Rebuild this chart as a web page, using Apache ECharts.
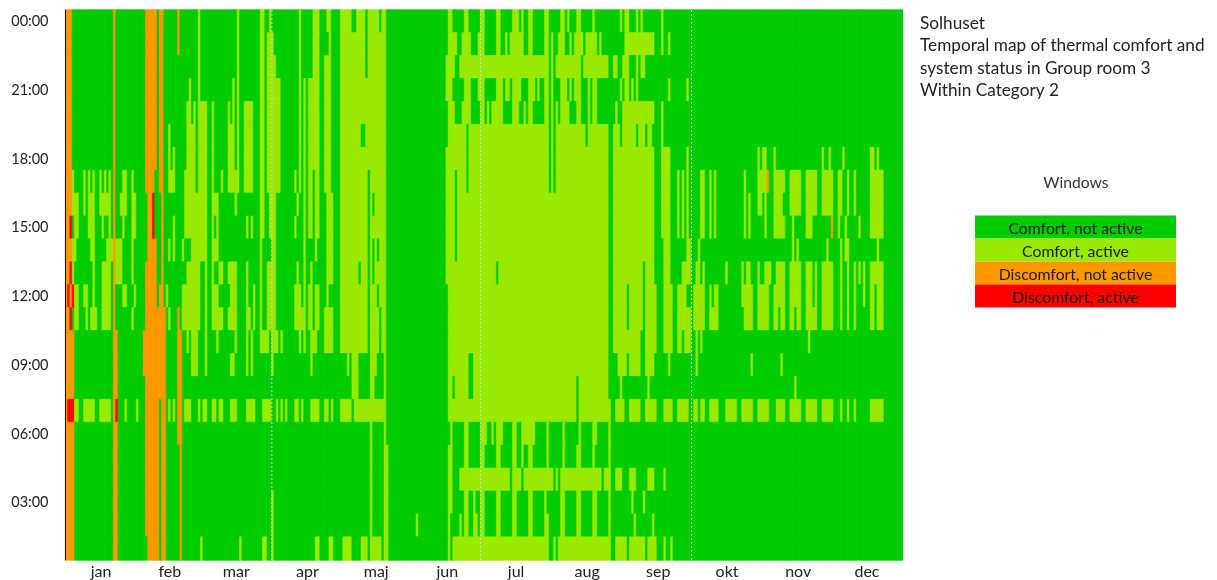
<!DOCTYPE html>
<html><head><meta charset="utf-8">
<style>html,body{margin:0;padding:0;background:#fff}#c{width:1217px;height:580px}</style>
<script src="https://cdn.jsdelivr.net/npm/echarts@6/dist/echarts.min.js"></script>
</head><body><div id="c"></div>
<script>
// Hour labels, top row to bottom row
const hourRows = ['00:00','23:00','22:00','21:00','20:00','19:00','18:00','17:00','16:00','15:00','14:00','13:00','12:00','11:00','10:00','09:00','08:00','07:00','06:00','05:00','04:00','03:00','02:00','01:00'];
const months = [['jan',15],['feb',45],['mar',74],['apr',105],['maj',135],['jun',166],['jul',196],['aug',227],['sep',258],['okt',288],['nov',319],['dec',349]];
const statusNames = ['Comfort, not active','Comfort, active','Discomfort, not active','Discomfort, active'];
const statusColors = ['#00CC00','#99EA00','#FF9900','#FF0000'];
const monthBreaks = [90,181,273];

// Days (0-364) with "Comfort, active" for each hour: single day or [first,last]
const h00=[58,75,[85,86],89,102,[108,110],[114,115],[120,124],[127,130],[132,136],[138,139],[167,168],[174,175],[181,182],[188,189],[195,197],199,[202,203],[209,210],[216,217],219,[223,224],230,242,[244,245],249,251,260];
const h23=[58,75,[85,86],[88,90],102,[108,110],115,[120,130],[132,139],[167,170],[173,176],180,[181,182],[188,189],192,[194,199],[202,203],[209,210],212,[215,217],220,[222,225],[227,231],233,[244,256],260,263];
const h22=[58,75,[85,86],[88,91],102,[108,110],[113,115],[120,130],[132,139],[166,169],[172,210],212,[214,224],[226,236],[239,240],[243,245],249,[251,252]];
const h21=[54,58,73,75,[85,86],[88,93],102,104,[106,110],[113,115],[120,139],[166,168],[174,176],[180,182],[188,190],[192,193],[195,198],[202,204],206,[209,210],212,[216,218],220,[222,224],228,[230,231],242,[244,245],247,249,263,271];
const h20=[[53,54],56,[58,61],64,71,73,75,[78,81],[85,86],[88,93],102,104,[106,110],[113,115],[120,139],[167,169],[173,176],[181,182],184,[186,190],[195,197],200,[202,203],[209,210],212,214,[216,219],[223,224],228,[230,231],240,[243,256],260];
const h19=[45,[53,56],[58,61],64,[71,73],75,[78,81],[85,86],[88,93],102,104,[106,110],[113,115],[120,128],[131,139],[167,174],[176,210],212,[214,226],[228,236],[239,241],[243,248],[250,252],[254,255],260];
const h18=[45,47,[53,56],[58,61],64,[71,73],75,[78,81],[85,86],[88,93],102,104,[106,110],[113,115],[120,139],[166,174],[176,210],212,[214,236],[239,256],[260,263],271,302,[304,305],309,330,333,339,[351,352],354];
const h17=[3,8,10,12,15,17,19,[25,26],29,[45,47],[52,56],[58,61],64,68,[71,75],[78,81],[85,86],[88,93],100,102,104,[106,107],[109,110],[113,115],[120,131],[133,139],[166,169],[171,174],[176,210],212,[214,236],[239,256],[260,263],267,269,271,[277,278],281,283,296,[302,305],[309,313],[316,320],[323,327],[330,334],[337,338],341,344,[351,356]];
const h16=[[3,5],8,[10,12],[15,19],[24,26],[29,30],[52,61],[64,66],74,[85,86],89,[90,91],101,104,[106,107],[109,110],[114,116],[120,131],133,[135,139],[166,169],[171,236],[239,256],[260,263],267,269,271,[277,278],281,283,296,298,[302,303],305,[309,312],[316,320],[323,327],[330,334],[337,338],341,344,[351,356]];
const h15=[[4,5],[10,12],16,19,25,[29,30],47,[52,61],64,66,79,81,[85,86],89,[90,91],100,104,[106,107],[109,110],[114,116],[120,131],[133,139],[166,169],[171,236],[239,256],[260,263],267,269,271,[277,278],281,283,296,298,305,[309,313],317,[323,325],337,340,346,[351,356]];
const h14=[[3,4],[11,12],[18,20],[22,24],29,45,47,51,[55,61],[64,66],85,[90,91],104,109,[114,116],[120,131],133,135,[137,139],[166,169],[171,236],[239,256],[261,263],[271,272],276,317,319,332,338,[340,341],354];
const h13=[3,12,[16,19],[22,24],29,[53,58],61,64,[67,68],[71,74],79,85,[88,89],[90,91],101,104,107,[114,116],[120,127],[129,131],133,[135,139],[166,187],[189,236],[239,251],[253,256],[261,263],[269,272],[275,276],278,288,295,[297,298],302,[305,307],[310,313],[316,320],[323,325],327,[330,334],338,341,344,346,348,[351,356]];
const h12=[[4,5],[8,9],12,[16,19],[25,26],30,44,[51,58],61,[64,66],[72,74],79,82,85,[88,89],[90,91],[100,102],104,[106,107],[109,110],114,[120,131],[133,135],[137,139],[167,236],[239,244],[246,251],[253,257],[261,264],[267,270],[274,278],281,[283,284],[295,299],[302,306],[309,313],[316,320],[323,325],327,[330,334],338,341,344,348,[351,352],[354,356]];
const h11=[[4,5],9,[11,13],[16,19],29,45,[51,58],61,[64,68],[71,74],[79,80],82,85,[88,89],[90,91],[100,104],[106,107],[109,110],[113,116],[120,131],[133,136],[138,139],[167,236],[239,244],[246,251],[253,257],[261,264],[267,272],[274,278],[281,284],[296,299],[302,306],[309,310],[312,313],[316,317],[319,320],[323,327],[330,334],338,341,344,[351,352],[354,356]];
const h10=[53,[55,57],61,66,74,79,81,[85,88],[90,92],94,102,104,[107,109],[113,116],[120,131],[133,136],[138,139],[167,236],[239,250],[253,257],[261,264],[267,268],[270,272],275,277,324];
const h09=[[55,57],61,[72,73],79,81,90,107,123,[125,127],[133,135],139,[167,175],[178,236],[241,244],[246,250],[253,256],263,275,299,312];
const h08=[[125,127],[133,134],139,[167,168],[170,175],[178,222],[224,236],242,254,318];
const h07=[[4,5],[8,12],[15,19],26,31,45,47,[52,54],58,[60,61],[64,65],[67,68],[72,74],[79,82],[86,89],92,94,96,[100,101],103,[107,110],[113,114],116,[120,124],[126,139],[167,222],[224,237],[240,243],[246,250],[253,257],[261,264],[267,271],[274,275],[277,278],[281,284],[288,292],[295,299],[302,306],[310,313],[316,320],[323,327],[330,334],338,341,344,[351,356]];
const h06=[133,139,168,[174,175],[181,183],186,[188,190],[195,196],[199,204],210,217,224,[230,231],237];
const h05=[133,[139,140],[167,168],[174,175],[181,182],[188,189],[195,196],199,[202,203],210,217,[223,224],230,237];
const h04=[133,[139,140],[167,168],[172,193],[195,198],[200,212],214,[216,233],[235,237],[240,242],[246,248],[254,256],261];
const h03=[90,133,[139,140],[167,168],[174,175],178,[181,182],[188,189],[195,196],[202,203],209,[216,217],[223,224],[230,231],237,247,252];
const h02=[90,133,[139,140],153,167,172,[174,175],[178,179],[181,182],[188,189],[195,196],[202,203],[209,210],[216,217],[223,224],[230,231],237,248,256];
const h01=[59,76,[86,87],90,[109,110],[115,116],[121,124],[129,131],[133,137],[139,140],167,[169,210],213,[215,237],[240,244],[246,252],[254,257],261,264];
const activeByHour=[h00,h23,h22,h21,h20,h19,h18,h17,h16,h15,h14,h13,h12,h11,h10,h09,h08,h07,h06,h05,h04,h03,h02,h01];

// [first day, last day, first row, last row]
const discomfortIdle=[[0,2,0,13],[0,3,12,12],[0,3,14,23],[21,21,0,13],[21,22,14,23],[35,39,0,6],[35,38,7,7],[36,38,8,9],[36,39,10,10],[35,39,11,12],[35,43,13,13],[34,43,14,15],[35,43,16,16],[35,40,17,22],[42,43,17,22],[36,40,23,23],[42,43,23,23],[41,42,0,7],[42,42,8,11],[41,42,12,12],[49,49,0,1],[49,49,13,13],[49,50,14,18],[50,50,19,23],[306,306,7,7],[334,334,9,9]];
const discomfortActive=[[1,3,17,17],[22,22,17,17],[2,2,9,9],[2,2,11,11],[1,1,12,12],[3,3,12,12],[2,2,13,13],[38,38,8,9]];

const cells=[];
activeByHour.forEach(function(runs,row){
  const line=new Array(365).fill(0);
  runs.forEach(function(r){
    const a=Array.isArray(r)?r[0]:r,b=Array.isArray(r)?r[1]:r;
    for(let d=a;d<=b;d++)line[d]=1;
  });
  discomfortIdle.forEach(function(k){if(row>=k[2]&&row<=k[3])for(let d=k[0];d<=k[1];d++)line[d]=2;});
  discomfortActive.forEach(function(k){if(row>=k[2]&&row<=k[3])for(let d=k[0];d<=k[1];d++)line[d]=3;});
  line.forEach(function(v,d){
    const c=statusColors[v];
    cells.push({value:[d,23-row,v],itemStyle:{color:c,borderColor:c,borderWidth:0.6}});
  });
});

const dayLabels=new Array(365).fill('');
months.forEach(function(m){dayLabels[m[1]]=m[0];});
const yLabels=hourRows.slice().reverse();
const font='Lato';
const titleLines=['Solhuset','Temporal map of thermal comfort and','system status in Group room 3','Within Category 2'];
const titleY=[23,45,68,90];

const g=[];
titleLines.forEach(function(t,i){
  g.push({type:'text',x:920,y:titleY[i],style:{text:t,font:'17.2px '+font,fill:'#222',textVerticalAlign:'middle'}});
});
g.push({type:'text',x:1076,y:183,style:{text:'Windows',font:'15.7px '+font,fill:'#333',textAlign:'center',textVerticalAlign:'middle'}});
statusNames.forEach(function(n,i){
  g.push({type:'rect',shape:{x:975,y:215.5+i*23,width:201,height:23},style:{fill:statusColors[i]}});
  g.push({type:'text',x:1075.5,y:229+i*23,style:{text:n,font:'15.8px '+font,fill:'#1a1a00',textAlign:'center',textVerticalAlign:'middle'}});
});

const breakSeries=monthBreaks.map(function(b){
  return {type:'line',xAxisIndex:1,yAxisIndex:1,silent:true,showSymbol:false,animation:false,z:5,
    data:[[b,0],[b,1]],lineStyle:{color:'#d8d8d8',width:1,type:[2,2]}};
});

const chart=echarts.init(document.getElementById('c'),null,{renderer:'canvas'});
chart.setOption({
  animation:false,backgroundColor:'#fff',
  grid:{left:65.5,top:10,width:837,height:550,outerBoundsMode:'none',containLabel:false},
  xAxis:[{type:'category',data:dayLabels,position:'bottom',
      axisTick:{show:false},axisLine:{show:false},splitLine:{show:false},
      axisLabel:{interval:function(i,v){return v!=='';},margin:4,color:'#222',fontFamily:font,fontSize:16,hideOverlap:false}},
    {type:'value',min:0,max:365,show:false}],
  yAxis:[{type:'category',data:yLabels,z:6,
      axisTick:{show:false},axisLine:{show:true,lineStyle:{color:'#111',width:1}},splitLine:{show:false},
      axisLabel:{interval:function(i){return i%3===2;},margin:17,color:'#222',fontFamily:font,fontSize:14.5,padding:[3,0,0,0]}},
    {type:'value',min:0,max:1,show:false}],
  tooltip:{show:false},
  series:[{type:'heatmap',data:cells,progressive:0,animation:false,silent:true}].concat(breakSeries),
  graphic:g.concat([{type:'line',shape:{x1:902.5,y1:10,x2:902.5,y2:560},style:{stroke:'#555',lineWidth:1}}])
});
</script></body></html>
